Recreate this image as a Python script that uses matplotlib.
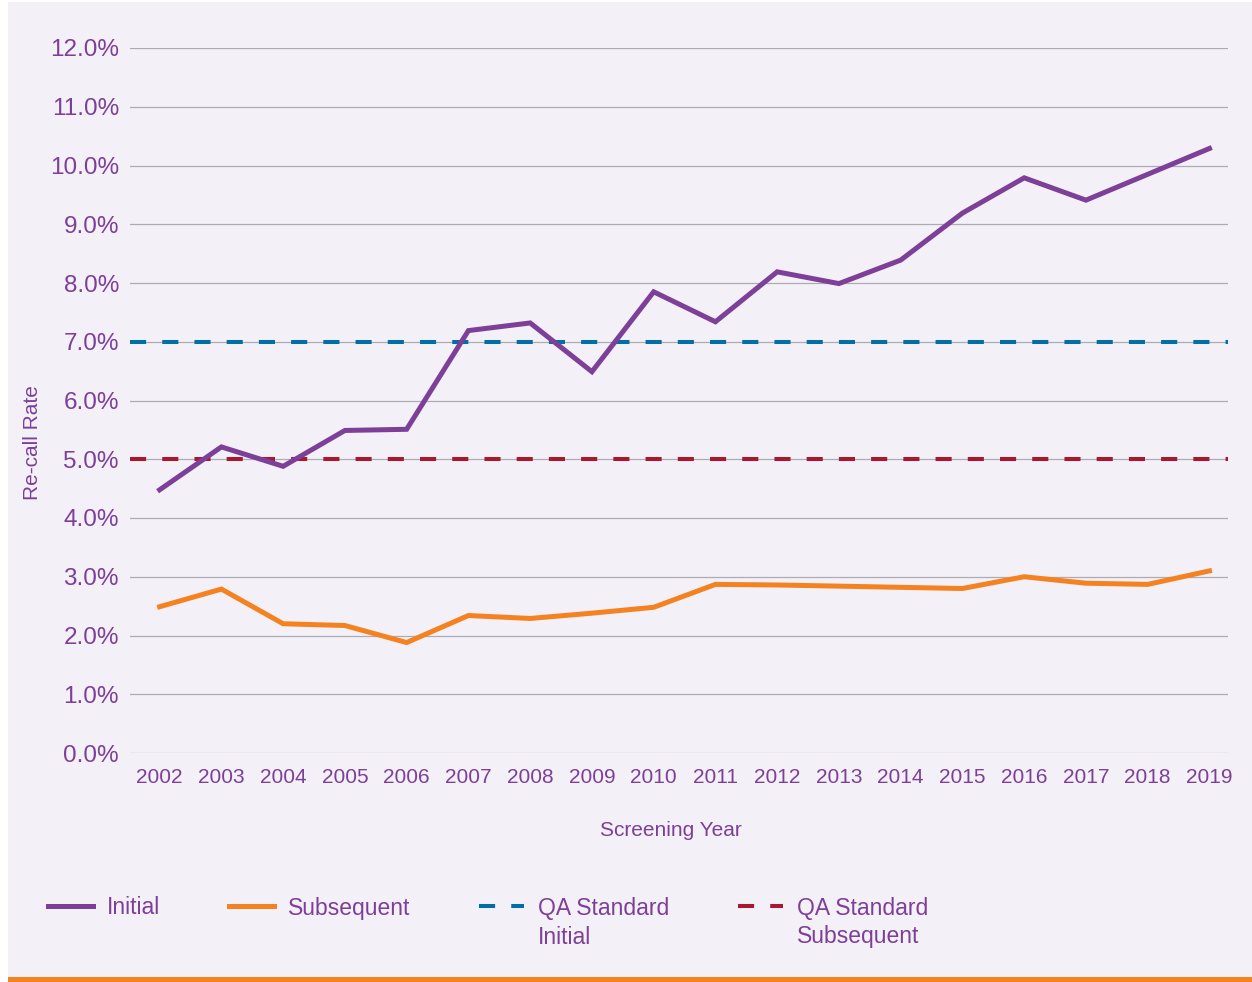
import matplotlib.pyplot as plt
from matplotlib.patches import Rectangle
from matplotlib.ticker import FuncFormatter

plt.rcParams['font.family'] = ['Liberation Sans', 'DejaVu Sans']

years = [str(y) for y in range(2002, 2020)]
initial = [4.48, 5.21, 4.88, 5.49, 5.51, 7.19, 7.32, 6.49, 7.85, 7.34,
           8.19, 7.99, 8.39, 9.19, 9.79, 9.41, 9.85, 10.29]
subsequent = [2.49, 2.79, 2.20, 2.17, 1.88, 2.34, 2.29, 2.38, 2.48, 2.87,
              2.86, 2.84, 2.82, 2.80, 3.00, 2.89, 2.87, 3.10]
qa_initial = 7.0
qa_subsequent = 5.0

purple = '#7d3f98'
orange = '#f58220'
blue = '#0070a4'
red = '#a6192e'
bg = '#f3f0f7'

W, H = 1252, 982
fig = plt.figure(figsize=(W / 100, H / 100), dpi=100, facecolor='white')

# page background and orange rule at the bottom
fig.add_artist(Rectangle((8 / W, 0), 1 - 8 / W, 1 - 2 / H, transform=fig.transFigure,
                         facecolor=bg, edgecolor='none', zorder=-2))
fig.add_artist(Rectangle((8 / W, 0), 1 - 8 / W, 5 / H, transform=fig.transFigure,
                         facecolor=orange, edgecolor='none', zorder=-1))

ax = fig.add_axes([130 / W, 1 - 753 / H, (1228 - 130) / W, (753 - 48) / H])
ax.set_facecolor('none')

x = list(range(len(years)))
ax.set_xlim(-0.48, len(years) - 1 + 0.3)
ax.set_ylim(0, 12)

ax.set_yticks(range(0, 13))
ax.yaxis.set_major_formatter(FuncFormatter(lambda v, p: f'{v:.1f}%'))
ax.set_xticks(x)
ax.set_xticklabels(years)
ax.grid(axis='y', color='#aeacb3', linewidth=0.9)
ax.set_axisbelow(True)
for s in ax.spines.values():
    s.set_visible(False)
ax.tick_params(axis='y', length=0, pad=8, labelsize=17.5, labelcolor=purple)
ax.tick_params(axis='x', length=0, pad=11, labelsize=15, labelcolor=purple)

l1, = ax.plot(x, initial, color=purple, linewidth=3.6, solid_joinstyle='miter',
              label='Initial', zorder=4)
l2, = ax.plot(x, subsequent, color=orange, linewidth=3.6, solid_joinstyle='miter',
              label='Subsequent', zorder=4)
l3 = ax.axhline(qa_initial, color=blue, linewidth=2.9, linestyle=(0, (4, 4)),
                label='QA Standard', zorder=3)
l4 = ax.axhline(qa_subsequent, color=red, linewidth=2.9, linestyle=(0, (4, 4)),
                label='QA Standard', zorder=3)

fig.text(671 / W, 1 - 830 / H, 'Screening Year', color=purple, fontsize=15,
         ha='center', va='center')
fig.text(33 / W, 1 - 443 / H, 'Re-call Rate', color=purple, fontsize=15,
         ha='center', va='center', rotation=90)

leg = fig.legend(handles=[l1, l2, l3, l4], loc='center left',
                 bbox_to_anchor=(48 / W, 1 - 908 / H), ncol=4, frameon=False,
                 fontsize=16.5, borderpad=0, borderaxespad=0, handlelength=1.96,
                 handletextpad=0.61, columnspacing=3.0, labelcolor=purple)

# second line of the two QA labels
fig.canvas.draw()
for t, extra in zip(leg.get_texts()[2:], ['Initial', 'Subsequent']):
    bb = t.get_window_extent()
    fig.text(bb.x0 / W, (bb.y0 + bb.y1) / 2 / H - 29 / H, extra, color=purple,
             fontsize=16.5, ha='left', va='center')

fig.savefig('out.png', dpi=100, facecolor=fig.get_facecolor())
